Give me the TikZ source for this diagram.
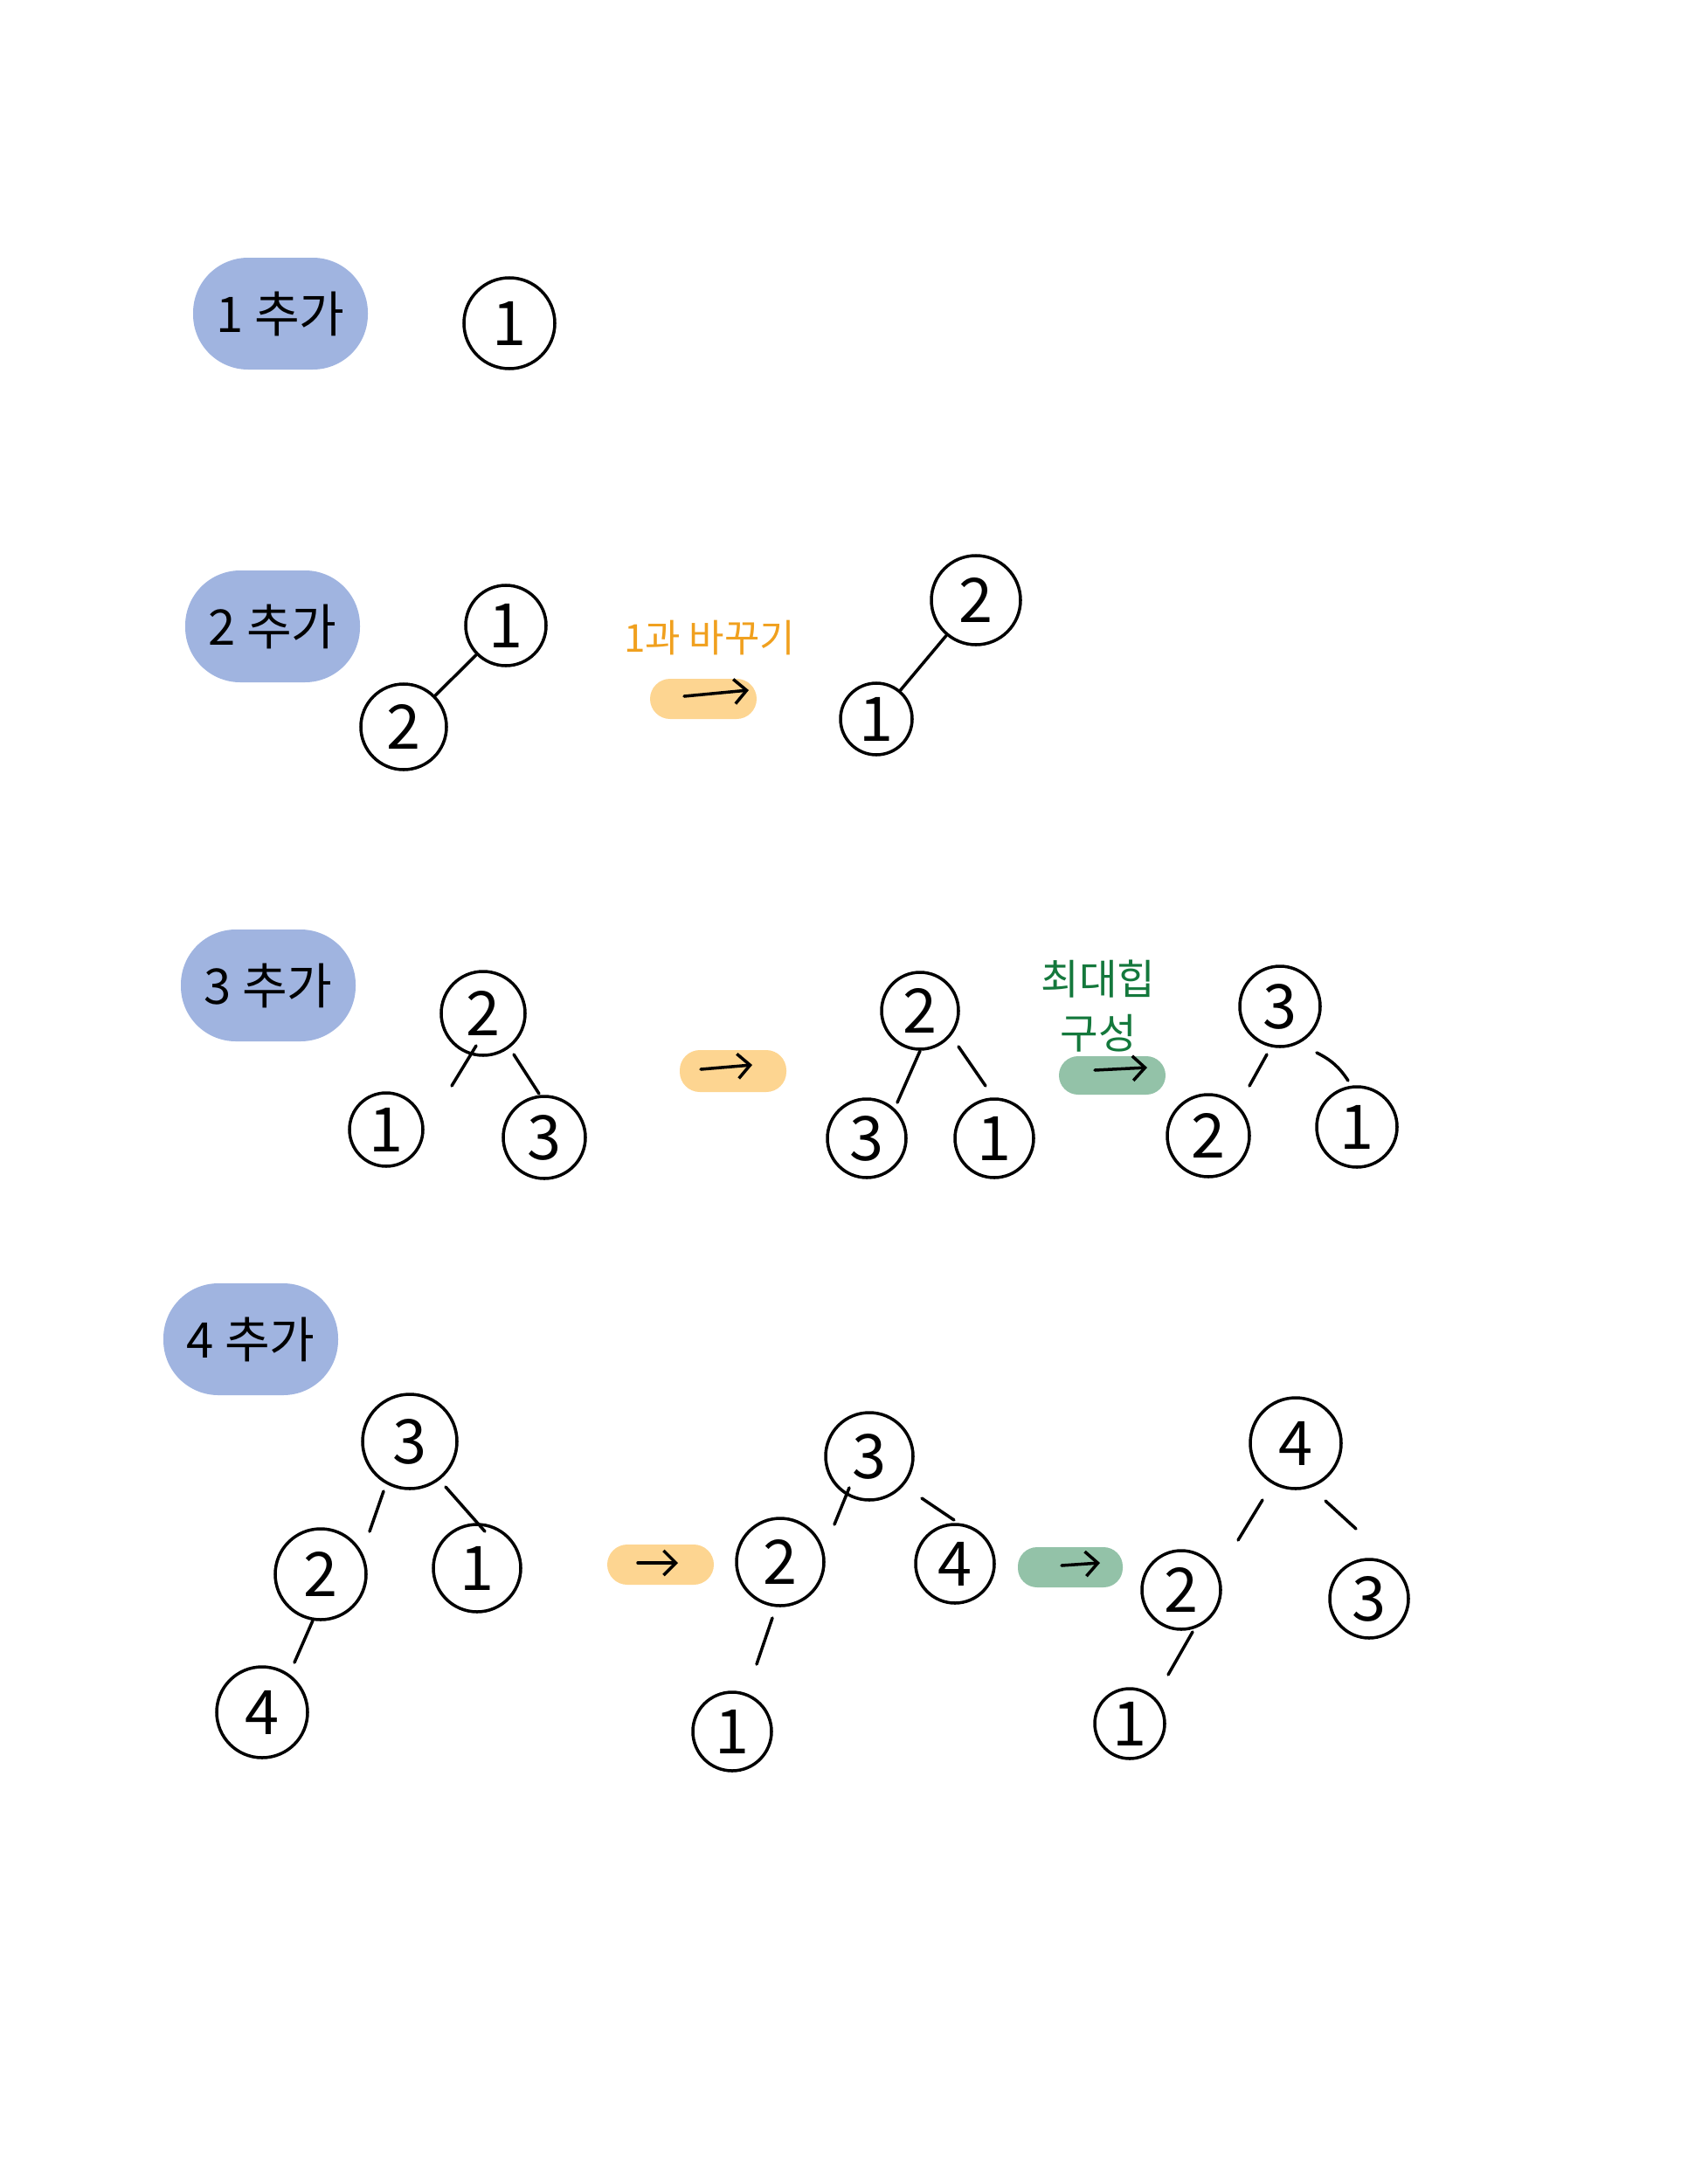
\documentclass[tikz,border=0pt]{standalone}
\usepackage{fontspec}
\setmainfont{Noto Sans CJK KR}
\usepackage{tikz}
\usetikzlibrary{arrows.meta, positioning, calc}
\definecolor{myblue}{RGB}{160,180,224}
\definecolor{myorange}{RGB}{253,213,145}
\definecolor{mygreen}{RGB}{147,194,168}
\definecolor{txtorange}{RGB}{240,160,30}
\definecolor{txtgreen}{RGB}{20,120,60}
\tikzset{
  addblob/.style={rectangle, fill=myblue, minimum width=2cm, minimum height=1.28cm,
    rounded corners=0.63cm, font=\fontsize{16}{18}\selectfont},
  swapblob/.style={rectangle, fill=myorange, minimum width=1.22cm, minimum height=0.46cm,
    rounded corners=0.23cm},
  heapblob/.style={rectangle, fill=mygreen, minimum width=1.22cm, minimum height=0.44cm,
    rounded corners=0.22cm},
  numnode/.style={circle, draw=black, line width=1pt, minimum size=0.95cm,
    inner sep=0pt, font=\fontsize{20}{24}\selectfont},
  edge/.style={line width=1pt, line cap=round},
  harrow/.style={-{Straight Barb[length=4pt, width=8pt]}, line width=1pt, line cap=round},
  swaptext/.style={text=txtorange, font=\fontsize{12.5}{14}\selectfont},
  heaptext/.style={text=txtgreen, align=center, font=\fontsize{13.5}{17.6}\selectfont}
}
\begin{document}
\begin{tikzpicture}
  \useasboundingbox (0,0) rectangle (19.32,-25);

  % 1 추가
  \node[addblob] (add1) at (3.21,-3.59) {1 추가};
  \node[numnode, minimum size=1.04cm] (r1n1) at (5.83,-3.70) {1};

  % 2 추가 -- 1과 바꾸기
  \node[addblob] (add2) at (3.12,-7.17) {2 추가};
  \node[numnode, minimum size=0.92cm] (r2a1) at (5.79,-7.16) {1};
  \node[numnode, minimum size=0.98cm] (r2a2) at (4.62,-8.32) {2};
  \draw[edge] (r2a1) -- (r2a2);

  \node[swaptext] (swap2) at (8.12,-7.30) {1과 바꾸기};
  \node[swapblob] (sw2) at (8.05,-8.00) {};
  \draw[harrow] ($(sw2)+(-0.22,0.03)$) -- ($(sw2)+(0.52,0.10)$);

  \node[numnode, minimum size=1.02cm] (r2b2) at (11.17,-6.87) {2};
  \node[numnode, minimum size=0.82cm] (r2b1) at (10.03,-8.23) {1};
  \draw[edge] (r2b2) -- (r2b1);

  % 3 추가 -- 최대힙 구성
  \node[addblob] (add3) at (3.07,-11.28) {3 추가};
  \node[numnode, minimum size=0.96cm] (r3a2) at (5.53,-11.60) {2};
  \node[numnode, minimum size=0.84cm] (r3a1) at (4.42,-12.93) {1};
  \node[numnode, minimum size=0.94cm] (r3a3) at (6.23,-13.02) {3};
  \draw[edge] ($(r3a2)+(-0.08,-0.37)$) -- ($(r3a1)+(0.75,0.50)$);
  \draw[edge] ($(r3a2)+(0.35,-0.47)$) -- ($(r3a3)+(-0.06,0.50)$);

  \node[swapblob, minimum height=0.48cm] (sw3) at (8.39,-12.26) {};
  \draw[harrow] ($(sw3)+(-0.37,0.02)$) -- ($(sw3)+(0.22,0.07)$);

  \node[numnode, minimum size=0.88cm] (r3b2) at (10.53,-11.57) {2};
  \node[numnode, minimum size=0.90cm] (r3b3) at (9.92,-13.03) {3};
  \node[numnode, minimum size=0.90cm] (r3b1) at (11.38,-13.03) {1};
  \draw[edge] ($(r3b2)+(0,-0.46)$) -- ($(r3b3)+(0.35,0.41)$);
  \draw[edge] ($(r3b2)+(0.44,-0.41)$) -- ($(r3b1)+(-0.10,0.60)$);

  \node[heaptext] (heap3) at (12.57,-11.52) {최대힙\\구성};
  \node[heapblob] (hp3) at (12.73,-12.31) {};
  \draw[harrow] ($(hp3)+(-0.20,0.06)$) -- ($(hp3)+(0.40,0.09)$);

  \node[numnode, minimum size=0.92cm] (r3c3) at (14.65,-11.52) {3};
  \node[numnode, minimum size=0.94cm] (r3c2) at (13.83,-13.00) {2};
  \node[numnode, minimum size=0.92cm] (r3c1) at (15.53,-12.90) {1};
  \draw[edge] ($(r3c3)+(-0.15,-0.55)$) -- ($(r3c2)+(0.47,0.57)$);
  \draw[edge] ($(r3c3)+(0.42,-0.53)$) to[bend left=15] ($(r3c1)+(-0.10,0.53)$);

  % 4 추가
  \node[addblob] (add4) at (2.87,-15.33) {4 추가};
  \node[numnode, minimum size=1.08cm] (r4a3) at (4.69,-16.50) {3};
  \node[numnode, minimum size=1.04cm] (r4a2) at (3.67,-18.02) {2};
  \node[numnode, minimum size=1.00cm] (r4a1) at (5.46,-17.95) {1};
  \node[numnode, minimum size=1.04cm] (r4a4) at (3.00,-19.60) {4};
  \draw[edge] ($(r4a3)+(-0.30,-0.57)$) -- ($(r4a2)+(0.56,0.49)$);
  \draw[edge] ($(r4a3)+(0.41,-0.52)$) -- ($(r4a1)+(0.09,0.42)$);
  \draw[edge] ($(r4a2)+(-0.09,-0.53)$) -- ($(r4a4)+(0.37,0.57)$);

  \node[swapblob] (sw4) at (7.56,-17.91) {};
  \draw[harrow] ($(sw4)+(-0.26,0.02)$) -- ($(sw4)+(0.20,0.02)$);

  \node[numnode, minimum size=1.00cm] (r4b3) at (9.95,-16.67) {3};
  \node[numnode, minimum size=1.00cm] (r4b2) at (8.93,-17.88) {2};
  \node[numnode, minimum size=0.90cm] (r4b4) at (10.93,-17.90) {4};
  \node[numnode, minimum size=0.90cm] (r4b1) at (8.38,-19.82) {1};
  \draw[edge] ($(r4b3)+(-0.23,-0.36)$) -- ($(r4b2)+(0.62,0.43)$);
  \draw[edge] ($(r4b3)+(0.60,-0.48)$) -- ($(r4b4)+(-0.01,0.50)$);
  \draw[edge] ($(r4b2)+(-0.09,-0.64)$) -- ($(r4b1)+(0.28,0.77)$);

  \node[heapblob, minimum width=1.20cm, minimum height=0.46cm] (hp4) at (12.25,-17.94) {};
  \draw[harrow] ($(hp4)+(-0.10,0.02)$) -- ($(hp4)+(0.34,0.05)$);

  \node[numnode, minimum size=1.04cm] (r4c4) at (14.83,-16.52) {4};
  \node[numnode, minimum size=0.90cm] (r4c2) at (13.52,-18.20) {2};
  \node[numnode, minimum size=0.90cm] (r4c3) at (15.67,-18.30) {3};
  \node[numnode, minimum size=0.80cm] (r4c1) at (12.93,-19.73) {1};
  \draw[edge] ($(r4c4)+(-0.38,-0.65)$) -- ($(r4c2)+(0.65,0.57)$);
  \draw[edge] ($(r4c4)+(0.34,-0.66)$) -- ($(r4c3)+(-0.15,0.80)$);
  \draw[edge] ($(r4c2)+(0.13,-0.48)$) -- ($(r4c1)+(0.44,0.56)$);
\end{tikzpicture}
\end{document}
